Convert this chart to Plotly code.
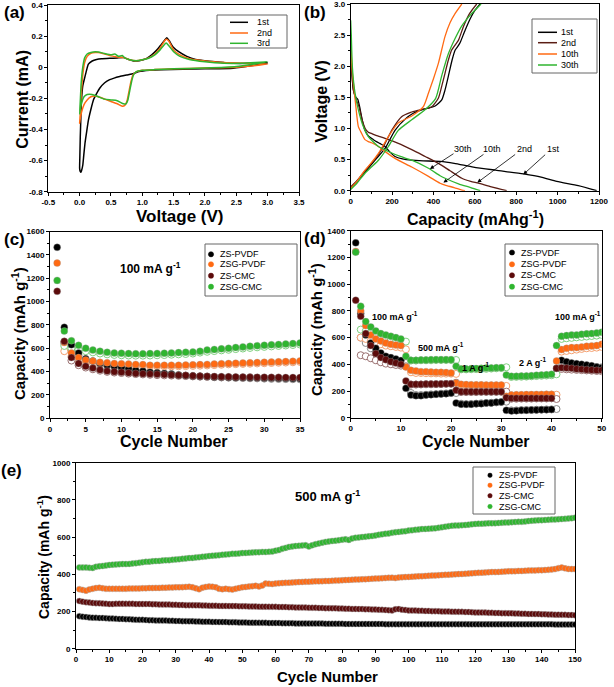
import plotly.graph_objects as go

W, H = 614, 687
FONT = "Liberation Sans"
BLACK = "#000000"; ORANGE = "#ff6a13"; MAROON = "#5c0b0b"; GREEN = "#2fb52f"; BROWN2 = "#5a1d14"

def xp(px): return px / W
def yp(py): return 1 - py / H

# ---------------- (a) CV data ----------------
cv_names = ["1st", "2nd", "3rd"]
cv1_v = [3.0, 2.45, 2.0, 1.65, 1.3, 1.12, 0.95, 0.86, 0.75, 0.64, 0.55, 0.48, 0.40, 0.32, 0.27, 0.22, 0.18, 0.14, 0.11, 0.085, 0.065, 0.05, 0.03, 0.02, 0.01, 0.0, 0.003, 0.01, 0.02, 0.03, 0.05, 0.085, 0.11, 0.14, 0.2, 0.27, 0.35, 0.48, 0.6, 0.7, 0.78, 0.86, 0.95, 1.07, 1.15, 1.23, 1.3, 1.35, 1.39, 1.43, 1.49, 1.58, 1.71, 1.85, 2.03, 2.3, 2.45, 2.7, 3.0]
cv1_i = [0.025, -0.006, -0.01, -0.013, -0.016, -0.02, -0.028, -0.04, -0.05, -0.06, -0.07, -0.08, -0.1, -0.135, -0.17, -0.21, -0.27, -0.34, -0.42, -0.49, -0.57, -0.63, -0.665, -0.675, -0.67, -0.65, -0.58, -0.45, -0.32, -0.21, -0.12, -0.06, -0.02, 0.02, 0.04, 0.05, 0.055, 0.057, 0.06, 0.062, 0.05, 0.04, 0.042, 0.057, 0.08, 0.11, 0.145, 0.17, 0.19, 0.17, 0.13, 0.1, 0.07, 0.05, 0.04, 0.03, 0.025, 0.025, 0.03]
cv2_v = [3.0, 2.5, 2.0, 1.5, 1.2, 1.0, 0.9, 0.85, 0.82, 0.79, 0.76, 0.72, 0.68, 0.6, 0.5, 0.4, 0.3, 0.245, 0.18, 0.12, 0.07, 0.03, 0.01, 0.0, 0.01, 0.025, 0.05, 0.08, 0.12, 0.18, 0.25, 0.3, 0.4, 0.5, 0.6, 0.7, 0.8, 0.9, 1.0, 1.1, 1.2, 1.28, 1.34, 1.38, 1.42, 1.5, 1.6, 1.75, 2.0, 2.3, 2.6, 3.0]
cv2_i = [0.02, 0.0, -0.005, -0.01, -0.015, -0.02, -0.03, -0.05, -0.09, -0.15, -0.21, -0.245, -0.25, -0.235, -0.22, -0.205, -0.19, -0.185, -0.19, -0.21, -0.24, -0.29, -0.33, -0.36, -0.3, -0.18, -0.05, 0.03, 0.07, 0.09, 0.095, 0.094, 0.085, 0.073, 0.066, 0.062, 0.048, 0.042, 0.048, 0.06, 0.085, 0.12, 0.16, 0.18, 0.17, 0.11, 0.08, 0.055, 0.04, 0.03, 0.025, 0.02]
cv3_v = [3.0, 2.5, 2.0, 1.5, 1.2, 1.0, 0.9, 0.86, 0.83, 0.8, 0.77, 0.74, 0.7, 0.6, 0.5, 0.4, 0.3, 0.2, 0.12, 0.07, 0.03, 0.01, 0.0, 0.01, 0.025, 0.05, 0.08, 0.12, 0.18, 0.25, 0.3, 0.4, 0.5, 0.56, 0.62, 0.68, 0.72, 0.8, 0.9, 1.0, 1.1, 1.2, 1.28, 1.34, 1.38, 1.42, 1.5, 1.6, 1.75, 2.0, 2.3, 2.6, 3.0]
cv3_i = [0.035, 0.005, -0.005, -0.01, -0.015, -0.02, -0.03, -0.05, -0.09, -0.15, -0.21, -0.235, -0.235, -0.215, -0.21, -0.205, -0.19, -0.175, -0.175, -0.19, -0.23, -0.27, -0.3, -0.22, -0.1, 0.0, 0.06, 0.085, 0.095, 0.1, 0.098, 0.088, 0.08, 0.085, 0.07, 0.075, 0.06, 0.048, 0.042, 0.048, 0.058, 0.08, 0.11, 0.14, 0.155, 0.14, 0.1, 0.07, 0.05, 0.035, 0.025, 0.025, 0.035]

# ---------------- (b) charge/discharge ----------------
gc_names = ["1st", "2nd", "10th", "30th"]
d1_cap = [0, 5, 13, 25, 34, 45, 58, 69, 85, 110, 140, 166, 190, 214, 250, 295, 350, 432, 500, 593, 700, 835, 920, 996, 1100, 1189]
d1_v = [2.3, 1.95, 1.62, 1.5, 1.47, 1.32, 1.1, 0.97, 0.88, 0.82, 0.76, 0.71, 0.62, 0.55, 0.51, 0.49, 0.48, 0.47, 0.44, 0.38, 0.33, 0.27, 0.22, 0.15, 0.08, 0.0]
c1_cap = [0, 30, 69, 120, 166, 214, 263, 300, 343, 380, 408, 440, 456, 472, 490, 505, 520, 529, 553, 580, 601, 625]
c1_v = [0.05, 0.15, 0.3, 0.5, 0.68, 0.97, 1.15, 1.24, 1.3, 1.33, 1.36, 1.46, 1.62, 1.84, 2.1, 2.26, 2.33, 2.38, 2.58, 2.78, 2.9, 3.0]
d2_cap = [0, 5, 13, 25, 40, 55, 70, 85, 100, 130, 166, 230, 295, 360, 424, 480, 537, 580, 617, 680, 754]
d2_v = [2.2, 1.9, 1.62, 1.48, 1.35, 1.14, 1.0, 0.94, 0.92, 0.88, 0.84, 0.76, 0.66, 0.55, 0.44, 0.32, 0.2, 0.15, 0.12, 0.06, 0.0]
c2_cap = [0, 30, 69, 120, 160, 198, 246, 290, 335, 392, 424, 440, 456, 472, 488, 521, 545, 575, 609]
c2_v = [0.06, 0.16, 0.32, 0.52, 0.72, 0.97, 1.19, 1.26, 1.3, 1.35, 1.49, 1.68, 1.89, 2.1, 2.26, 2.42, 2.64, 2.85, 3.0]
d10_cap = [0, 4, 8, 15, 25, 37, 53, 69, 85, 101, 134, 170, 214, 295, 376, 432, 456, 500, 537, 552]
d10_v = [2.37, 2.1, 1.9, 1.67, 1.35, 1.03, 0.92, 0.82, 0.79, 0.77, 0.71, 0.62, 0.52, 0.38, 0.23, 0.12, 0.09, 0.05, 0.01, 0.0]
c10_cap = [0, 30, 69, 100, 134, 182, 230, 295, 351, 376, 400, 424, 456, 480, 505, 537]
c10_v = [0.04, 0.15, 0.33, 0.45, 0.6, 0.87, 1.09, 1.2, 1.35, 1.57, 1.8, 2.05, 2.48, 2.7, 2.85, 3.0]
d30_cap = [0, 3, 5, 8, 14, 21, 37, 61, 85, 134, 182, 240, 295, 376, 432, 456, 521, 580, 626]
d30_v = [2.74, 2.5, 2.26, 1.99, 1.75, 1.57, 1.3, 1.03, 0.87, 0.71, 0.63, 0.55, 0.49, 0.36, 0.24, 0.2, 0.11, 0.05, 0.0]
c30_cap = [0, 30, 69, 100, 134, 182, 230, 295, 359, 410, 440, 472, 505, 537, 580, 630]
c30_v = [0.02, 0.12, 0.28, 0.38, 0.49, 0.71, 0.97, 1.14, 1.3, 1.48, 1.85, 2.2, 2.45, 2.65, 2.83, 3.0]

# ---------------- (c) 100 mA/g cycling ----------------
series = ["ZS-PVDF", "ZSG-PVDF", "ZS-CMC", "ZSG-CMC"]
c_cycles = list(range(1, 36))
c_charge_cycles = list(range(2, 36))
c_dis = {
    "ZS-PVDF": [1465, 780, 630, 560, 510, 490, 470, 455, 445, 435, 425, 412, 405, 395, 390, 385, 380, 372, 366, 362, 360, 358, 355, 353, 352, 350, 349, 348, 347, 346, 345, 344, 343, 342, 341],
    "ZSG-PVDF": [1330, 650, 560, 520, 500, 490, 480, 475, 470, 468, 465, 462, 460, 455, 455, 455, 455, 455, 456, 458, 460, 462, 465, 468, 470, 472, 474, 476, 478, 480, 482, 484, 486, 488, 492],
    "ZS-CMC": [1088, 660, 520, 470, 445, 430, 415, 405, 400, 395, 390, 385, 382, 380, 378, 375, 372, 370, 368, 365, 362, 360, 358, 357, 356, 355, 354, 353, 352, 352, 351, 351, 350, 350, 350],
    "ZSG-CMC": [1182, 748, 665, 625, 600, 585, 575, 565, 560, 558, 555, 553, 553, 555, 556, 558, 560, 563, 566, 568, 575, 585, 590, 595, 600, 607, 612, 618, 622, 626, 630, 633, 637, 640, 645],
}
c_chg = {
    "ZS-PVDF": [640, 590, 540, 505, 480, 462, 450, 440, 430, 420, 410, 402, 395, 388, 382, 378, 370, 365, 360, 357, 355, 352, 350, 348, 346, 345, 343, 342, 340, 338, 337, 336, 335, 334],
    "ZSG-PVDF": [575, 530, 500, 485, 475, 468, 462, 458, 455, 452, 450, 448, 446, 445, 445, 445, 446, 447, 449, 451, 453, 456, 459, 462, 464, 466, 468, 470, 472, 474, 476, 478, 480, 483],
    "ZS-CMC": [655, 495, 455, 435, 420, 408, 398, 392, 388, 383, 379, 376, 373, 370, 368, 366, 364, 362, 360, 358, 356, 354, 352, 351, 350, 349, 348, 347, 346, 345, 344, 343, 342, 341],
    "ZSG-CMC": [620, 600, 590, 575, 565, 555, 548, 543, 540, 538, 537, 537, 538, 540, 542, 545, 548, 551, 555, 563, 570, 576, 582, 587, 593, 598, 603, 608, 612, 616, 620, 624, 628, 632],
}

# ---------------- (d) rate capability ----------------
d_cycles = list(range(1, 51))
d_charge_cycles = list(range(2, 51))
d_dis = {
    "ZS-PVDF": [1310, 780, 620, 560, 520, 485, 460, 450, 440, 428, 220, 170, 165, 165, 170, 172, 175, 178, 180, 185, 110, 100, 100, 100, 105, 105, 110, 110, 115, 118, 55, 50, 52, 55, 55, 58, 58, 60, 60, 62, 370, 430, 420, 410, 405, 400, 395, 390, 380, 375],
    "ZSG-PVDF": [1245, 800, 690, 620, 590, 575, 560, 550, 545, 540, 380, 355, 350, 345, 345, 342, 340, 340, 338, 335, 260, 250, 248, 247, 246, 246, 245, 245, 245, 245, 160, 170, 172, 172, 173, 173, 174, 174, 175, 175, 425, 510, 520, 525, 525, 530, 535, 538, 540, 550],
    "ZS-CMC": [880, 760, 630, 540, 480, 450, 435, 420, 410, 400, 275, 250, 250, 250, 252, 252, 253, 253, 254, 255, 205, 195, 195, 195, 195, 195, 195, 195, 195, 195, 150, 145, 145, 145, 145, 145, 145, 145, 145, 145, 370, 375, 372, 370, 365, 362, 360, 358, 355, 355],
    "ZSG-CMC": [1240, 835, 720, 680, 650, 630, 620, 610, 600, 590, 460, 430, 430, 432, 432, 435, 435, 435, 435, 435, 385, 365, 365, 367, 368, 370, 372, 373, 375, 375, 320, 310, 310, 312, 313, 315, 318, 320, 322, 325, 540, 610, 615, 620, 620, 625, 628, 630, 635, 640],
}
d_chg = {
    "ZS-PVDF": [600, 560, 520, 490, 470, 450, 440, 430, 420, 410, 185, 170, 170, 172, 175, 177, 180, 182, 185, 185, 105, 102, 103, 105, 108, 110, 112, 115, 118, 120, 55, 55, 57, 58, 58, 60, 60, 62, 62, 65, 415, 410, 405, 400, 395, 390, 385, 380, 378],
    "ZSG-PVDF": [600, 590, 575, 560, 550, 540, 535, 530, 525, 512, 340, 335, 335, 333, 332, 332, 330, 330, 330, 328, 242, 240, 240, 240, 240, 240, 240, 240, 240, 238, 168, 168, 169, 169, 170, 170, 171, 171, 172, 172, 495, 500, 505, 510, 515, 520, 522, 525, 530],
    "ZS-CMC": [468, 460, 445, 430, 415, 405, 400, 395, 390, 385, 248, 248, 249, 250, 250, 251, 252, 253, 254, 262, 192, 192, 192, 192, 193, 193, 193, 193, 194, 195, 142, 142, 143, 143, 143, 144, 144, 144, 145, 140, 365, 362, 360, 358, 356, 354, 352, 350, 348],
    "ZSG-CMC": [660, 650, 635, 620, 610, 600, 590, 585, 578, 570, 428, 428, 430, 430, 430, 432, 432, 432, 432, 432, 362, 362, 363, 364, 365, 366, 368, 370, 372, 378, 305, 306, 307, 308, 310, 312, 314, 316, 318, 325, 590, 595, 598, 602, 605, 608, 612, 615, 620],
}

# ---------------- (e) long cycling at 500 mA/g ----------------
e_cycles = list(range(1, 151))
e_dis = {
    "ZSG-CMC": [437, 436, 437, 435, 434, 440, 443, 445, 447, 450, 452, 453, 454, 455, 455, 456, 458, 460, 462, 465,
                467, 468, 470, 471, 472, 474, 475, 476, 478, 480, 481, 483, 485, 487, 488, 490, 492, 494, 496, 498,
                500, 501, 503, 505, 506, 508, 510, 511, 512, 514, 515, 516, 517, 518, 519, 520, 520, 521, 522, 527,
                530, 537, 542, 547, 550, 552, 553, 555, 556, 550, 556, 562, 566, 570, 574, 577, 579, 581, 583, 586,
                588, 585, 592, 596, 598, 600, 602, 604, 606, 609, 612, 615, 618, 620, 623, 626, 628, 630, 632, 635,
                637, 639, 641, 643, 644, 645, 646, 647, 650, 653, 656, 659, 661, 662, 663, 664, 665, 667, 669, 671,
                672, 672, 673, 674, 674, 675, 676, 677, 678, 679, 680, 681, 682, 682, 684, 686, 688, 689, 690, 691,
                692, 693, 694, 695, 696, 697, 698, 700, 702, 704],
    "ZSG-PVDF": [320, 316, 312, 318, 322, 326, 328, 325, 322, 322, 322, 322, 322, 322, 322, 323, 323, 324, 324, 325,
                 325, 326, 326, 327, 327, 328, 328, 329, 329, 330, 330, 331, 332, 333, 330, 325, 320, 328, 332, 334,
                 333, 330, 322, 320, 322, 320, 318, 322, 326, 330, 332, 334, 336, 338, 335, 340, 350, 349, 348, 350,
                 352, 353, 354, 355, 356, 357, 358, 359, 360, 360, 361, 362, 362, 363, 364, 364, 365, 366, 367, 368,
                 369, 370, 371, 372, 372, 373, 374, 375, 376, 377, 378, 379, 380, 381, 382, 380, 383, 384, 385, 386,
                 387, 388, 389, 390, 391, 392, 393, 394, 395, 396, 397, 398, 399, 400, 401, 402, 403, 404, 405, 407,
                 408, 409, 410, 411, 412, 412, 413, 414, 415, 416, 416, 417, 418, 418, 419, 420, 421, 421, 422, 422,
                 423, 424, 426, 428, 433, 436, 432, 429, 428, 428],
    "ZS-CMC": [256, 253, 250, 248, 246, 245, 244, 243, 242, 240, 240, 241, 242, 242, 241, 241, 241, 240, 240, 240,
               240, 240, 239, 239, 238, 238, 237, 237, 236, 236, 235, 235, 234, 234, 234, 233, 233, 232, 232, 231,
               231, 231, 230, 230, 230, 229, 229, 229, 228, 228, 228, 227, 227, 227, 226, 226, 226, 225, 225, 225,
               224, 224, 224, 223, 223, 222, 222, 221, 221, 220, 220, 220, 219, 219, 218, 218, 217, 217, 216, 216,
               215, 215, 214, 214, 213, 213, 212, 212, 211, 211, 210, 209, 208, 207, 206, 212, 213, 210, 208, 206,
               205, 205, 204, 204, 203, 203, 202, 202, 201, 200, 200, 200, 199, 199, 198, 198, 197, 197, 196, 195,
               195, 194, 194, 193, 193, 192, 192, 191, 191, 190, 190, 189, 189, 188, 188, 187, 187, 186, 186, 185,
               185, 184, 184, 183, 183, 182, 182, 181, 181, 180],
    "ZS-PVDF": [175, 172, 170, 168, 167, 166, 165, 165, 164, 163, 162, 161, 160, 160, 159, 158, 157, 156, 155, 155,
                154, 153, 153, 152, 152, 151, 151, 150, 150, 149, 149, 148, 148, 147, 147, 146, 146, 145, 145, 145,
                144, 144, 143, 143, 143, 142, 142, 142, 141, 141, 141, 140, 140, 140, 139, 139, 139, 138, 138, 138,
                138, 137, 137, 137, 137, 136, 136, 136, 136, 135, 135, 135, 135, 135, 134, 134, 134, 134, 134, 134,
                133, 133, 133, 133, 133, 133, 133, 133, 133, 133, 133, 133, 132, 132, 132, 132, 132, 132, 132, 132,
                132, 132, 132, 132, 132, 132, 132, 132, 132, 132, 132, 132, 132, 132, 132, 132, 132, 131, 131, 131,
                131, 131, 131, 131, 131, 131, 131, 131, 131, 131, 131, 131, 131, 131, 131, 131, 131, 131, 131, 131,
                131, 131, 131, 130, 130, 130, 130, 130, 130, 130],
}

colors = {"ZS-PVDF": BLACK, "ZSG-PVDF": ORANGE, "ZS-CMC": MAROON, "ZSG-CMC": GREEN}
open_edge = {"ZS-PVDF": "#8a8a8a", "ZSG-PVDF": "#f4a070", "ZS-CMC": "#9a7070", "ZSG-CMC": "#7fd07f"}

fig = go.Figure()

# (a)
for name, v, i, c in [("1st", cv1_v, cv1_i, BLACK), ("2nd", cv2_v, cv2_i, ORANGE), ("3rd", cv3_v, cv3_i, GREEN)]:
    fig.add_trace(go.Scatter(x=v, y=i, mode="lines", name=name, showlegend=False,
                             line=dict(color=c, width=1.5, shape="spline", smoothing=0.5),
                             xaxis="x", yaxis="y"))

# (b)
for name, dc, dv, cc, cvv, c in [("1st", d1_cap, d1_v, c1_cap, c1_v, BLACK),
                                 ("2nd", d2_cap, d2_v, c2_cap, c2_v, BROWN2),
                                 ("10th", d10_cap, d10_v, c10_cap, c10_v, ORANGE),
                                 ("30th", d30_cap, d30_v, c30_cap, c30_v, GREEN)]:
    fig.add_trace(go.Scatter(x=dc + [None] + cc, y=dv + [None] + cvv, mode="lines", name=name,
                             showlegend=False, connectgaps=False,
                             line=dict(color=c, width=1.3, shape="spline", smoothing=0.6),
                             xaxis="x2", yaxis="y2"))

# (c) and (d)
for ax_x, ax_y, cyc, ccyc, dis, chg in [("x3", "y3", c_cycles, c_charge_cycles, c_dis, c_chg),
                                         ("x4", "y4", d_cycles, d_charge_cycles, d_dis, d_chg)]:
    for s in series:
        fig.add_trace(go.Scatter(x=ccyc, y=chg[s], mode="markers", name=s + " charge", showlegend=False,
                                 marker=dict(size=7, color="white", line=dict(color=open_edge[s], width=1)),
                                 xaxis=ax_x, yaxis=ax_y))
    for s in series:
        fig.add_trace(go.Scatter(x=cyc, y=dis[s], mode="markers", name=s, showlegend=False,
                                 marker=dict(size=7, color=colors[s], line=dict(color="rgba(160,160,160,0.7)", width=0.5)),
                                 xaxis=ax_x, yaxis=ax_y))

# (e)
for s in ["ZS-PVDF", "ZSG-PVDF", "ZS-CMC", "ZSG-CMC"]:
    fig.add_trace(go.Scatter(x=e_cycles, y=e_dis[s], mode="markers", name=s, showlegend=False,
                             marker=dict(size=6, color=colors[s], line=dict(color="rgba(170,170,170,0.8)", width=0.6)),
                             xaxis="x5", yaxis="y5"))

tickfont = dict(family=FONT, size=8, color="black", weight="bold")

def axis(domain, rng, tickvals, ticktext, minor_vals, anchor):
    return dict(domain=domain, range=rng, tickmode="array", tickvals=tickvals, ticktext=ticktext,
                showline=True, linecolor="black", linewidth=1, mirror=True,
                ticks="outside", ticklen=3, tickwidth=1, tickcolor="black",
                minor=dict(tickmode="array", tickvals=minor_vals, ticks="outside", ticklen=2, tickcolor="black", tickwidth=1),
                showgrid=False, zeroline=False, tickfont=tickfont, anchor=anchor, fixedrange=True,
                automargin=False, ticklabeloverflow="allow")

def frange(a, b, step):
    out = []
    n = int(round((b - a) / step))
    for k in range(n + 1):
        out.append(round(a + k * step, 6))
    return out

ax_a_x = frange(-0.5, 3.5, 0.5)
ax_a_y = frange(-0.8, 0.4, 0.2)
layout = dict(
    width=W, height=H, margin=dict(l=0, r=0, t=0, b=0, autoexpand=False),
    paper_bgcolor="white", plot_bgcolor="white", showlegend=False,
    font=dict(family=FONT, color="black"),
    xaxis=axis([xp(48.3), xp(299)], [-0.5, 3.5], ax_a_x, ["%.1f" % v for v in ax_a_x], frange(-0.25, 3.25, 0.5), "y"),
    yaxis=axis([yp(191.7), yp(5)], [-0.8, 0.4], ax_a_y, ["0" if abs(v) < 1e-9 else "%.1f" % v for v in ax_a_y], frange(-0.7, 0.3, 0.2), "x"),
    xaxis2=axis([xp(350.7), xp(599)], [0, 1200], frange(0, 1200, 200), [str(int(v)) for v in frange(0, 1200, 200)], frange(100, 1100, 200), "y2"),
    yaxis2=axis([yp(190.7), yp(4)], [0, 3], frange(0, 3, 0.5), ["%.1f" % v for v in frange(0, 3, 0.5)], frange(0.25, 2.75, 0.5), "x2"),
    xaxis3=axis([xp(50), xp(300)], [0, 35], frange(0, 35, 5), [str(int(v)) for v in frange(0, 35, 5)], frange(2.5, 32.5, 5), "y3"),
    yaxis3=axis([yp(418.3), yp(231.6)], [0, 1600], frange(0, 1600, 200), [str(int(v)) for v in frange(0, 1600, 200)], frange(100, 1500, 200), "x3"),
    xaxis4=axis([xp(350.7), xp(601.7)], [0, 50], frange(0, 50, 10), [str(int(v)) for v in frange(0, 50, 10)], frange(5, 45, 10), "y4"),
    yaxis4=axis([yp(417.7), yp(230.8)], [0, 1400], frange(0, 1400, 200), [str(int(v)) for v in frange(0, 1400, 200)], frange(100, 1300, 200), "x4"),
    xaxis5=axis([xp(76), xp(575)], [0, 150], frange(0, 150, 10), [str(int(v)) for v in frange(0, 150, 10)], frange(5, 145, 10), "y5"),
    yaxis5=axis([yp(648.7), yp(462.7)], [0, 1000], frange(0, 1000, 200), [str(int(v)) for v in frange(0, 1000, 200)], frange(100, 900, 200), "x5"),
)
fig.update_layout(**layout)

ann = []
shapes = []

def text(px, py, t, size, bold=True, angle=0, xanchor="center", yanchor="middle"):
    ann.append(dict(x=xp(px), y=yp(py), xref="paper", yref="paper", text=("<b>%s</b>" % t) if bold else t,
                    showarrow=False, xanchor=xanchor, yanchor=yanchor, textangle=angle,
                    font=dict(family=FONT, size=size, color="black")))

# panel labels
text(14, 13, "(a)", 17); text(315, 13, "(b)", 17); text(14, 240, "(c)", 17); text(315, 238, "(d)", 17); text(12, 470, "(e)", 17)

# axis titles
text(180, 216.5, "Voltage (V)", 17)
text(21.7, 99, "Current (mA)", 16, angle=-90)
text(475, 217.5, "Capacity (mAhg<sup>-1</sup>)", 16)
text(320.5, 102, "Voltage (V)", 16, angle=-90)
text(174, 441.5, "Cycle Number", 16)
text(19, 334, "Capacity (mAh g<sup>-1</sup>)", 15, angle=-90)
text(476, 441.5, "Cycle Number", 16)
text(315, 330, "Capacity (mAh g<sup>-1</sup>)", 15, angle=-90)
text(327, 676, "Cycle Number", 15)
text(43, 557, "Capacity (mAh g<sup>-1</sup>)", 14, angle=-90)

# in-plot labels
text(150, 268, "100 mA g<sup>-1</sup>", 12)
text(395, 316, "100 mA g<sup>-1</sup>", 9)
text(441, 347, "500 mA g<sup>-1</sup>", 9)
text(475, 367, "1 A g<sup>-1</sup>", 9)
text(532, 362, "2 A g<sup>-1</sup>", 9)
text(578, 316, "100 mA g<sup>-1</sup>", 9)
text(327, 496, "500 mA g<sup>-1</sup>", 13)

# (b) arrow annotations (data coordinates)
b_labels = ["30th", "10th", "2nd", "1st"]
b_text_xy = [(544, 0.67), (681, 0.67), (842, 0.67), (982, 0.67)]
b_tail_xy = [(504, 0.61), (649, 0.60), (802, 0.60), (947, 0.60)]
b_head_xy = [(383, 0.35), (448, 0.13), (612, 0.13), (834, 0.26)]
for lab, (tx, ty), (ax_, ay_), (hx, hy) in zip(b_labels, b_text_xy, b_tail_xy, b_head_xy):
    ann.append(dict(x=tx, y=ty, xref="x2", yref="y2", text=lab, showarrow=False,
                    font=dict(family=FONT, size=9, color="black")))
    ann.append(dict(x=hx, y=hy, xref="x2", yref="y2", ax=ax_, ay=ay_, axref="x2", ayref="y2",
                    text="", showarrow=True, arrowhead=2, arrowsize=1, arrowwidth=0.8, arrowcolor="black"))

# legends (drawn manually)
def legend_box(x0, y0, x1, y1):
    shapes.append(dict(type="rect", xref="paper", yref="paper", x0=xp(x0), x1=xp(x1), y0=yp(y1), y1=yp(y0),
                       line=dict(color="#666666", width=1), fillcolor="white", layer="above"))

def legend_line(x0, x1, py, color, label, tx):
    shapes.append(dict(type="line", xref="paper", yref="paper", x0=xp(x0), x1=xp(x1), y0=yp(py), y1=yp(py),
                       line=dict(color=color, width=1.5), layer="above"))
    text(tx, py, label, 9, bold=False, xanchor="left")

def legend_dot(cx, py, color, label, tx, r=2.6):
    shapes.append(dict(type="circle", xref="paper", yref="paper", x0=xp(cx - r), x1=xp(cx + r),
                       y0=yp(py + r), y1=yp(py - r), line=dict(color=color, width=0.5), fillcolor=color, layer="above"))
    text(tx, py, label, 9, bold=False, xanchor="left")

legend_box(217, 15, 287, 48)
for lab, py, c in zip(cv_names, [22.3, 33, 43.3], [BLACK, ORANGE, GREEN]):
    legend_line(230, 248, py, c, lab, 255)

legend_box(532, 19, 597, 73)
for lab, py, c in zip(gc_names, [32.3, 42.7, 54, 65], [BLACK, BROWN2, ORANGE, GREEN]):
    legend_line(538, 557, py, c, lab, 559)

legend_box(205, 244, 297, 296)
for lab, py in zip(series, [254.3, 264.3, 275.7, 286.7]):
    legend_dot(211, py, colors[lab], lab, 217.5)

legend_box(505, 244, 598, 296)
for lab, py in zip(series, [252.5, 264.3, 275.3, 286.7]):
    legend_dot(512, py, colors[lab], lab, 518.5)

legend_box(473, 467, 555, 514)
for lab, py in zip(series, [475.3, 485.3, 495.7, 506.5]):
    legend_dot(490, py, colors[lab], lab, 496.5, r=2.2)

fig.update_layout(annotations=ann, shapes=shapes)
fig.write_html("out.html", config={"displayModeBar": False, "staticPlot": False},
               post_script="document.body.style.margin='0px';document.body.style.padding='0px';document.body.style.overflow='hidden';")
